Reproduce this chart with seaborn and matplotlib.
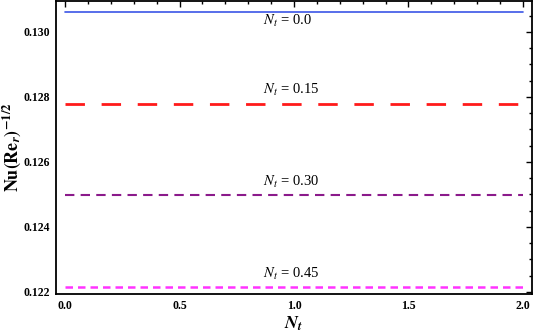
import matplotlib
matplotlib.use("Agg")
import matplotlib.pyplot as plt
from matplotlib.ticker import MultipleLocator, FormatStrFormatter
import pandas as pd
import seaborn as sns

# valeurs
x_range = [0.0, 2.0]
nt_labels = ["0.0", "0.15", "0.30", "0.45"]
nu_values = [0.13061, 0.12779, 0.12499, 0.12216]
label_y = [0.13033, 0.12822, 0.12538, 0.12255]
label_x = 0.865

colors = ["#3b55e6", "#ff1a1a", "#8b1a8b", "#ff33ff"]
dashes = [(None, None), (7, 6), (4.5, 3), (3, 2)]
widths = [1.2, 2.0, 1.5, 1.8]

sns.set_style("white")
plt.rcParams["font.family"] = ["Liberation Serif", "DejaVu Serif"]
plt.rcParams["mathtext.fontset"] = "stix"
for key in ["text.color", "axes.labelcolor", "xtick.color", "ytick.color"]:
    plt.rcParams[key] = "black"

rows = []
for lab, val in zip(nt_labels, nu_values):
    for x in x_range:
        rows.append({"x": x, "nu": val, "Nt": lab})
df = pd.DataFrame(rows)

fig = plt.figure(figsize=(5.36, 3.33), dpi=100)
ax = fig.add_axes([0.1045, 0.117, 0.888, 0.879])

for i, lab in enumerate(nt_labels):
    sub = df[df["Nt"] == lab]
    sns.lineplot(data=sub, x="x", y="nu", ax=ax, color=colors[i],
                 linewidth=widths[i], legend=False)
    line = ax.lines[-1]
    if dashes[i][0] is not None:
        line.set_dashes(dashes[i])
    ax.text(label_x, label_y[i], r"$N_t$ = " + lab, ha="left", va="center",
            fontsize=10.5)

ax.set_xlim(-0.04, 2.04)
ax.set_ylim(0.12193, 0.13094)
ax.xaxis.set_major_locator(MultipleLocator(0.5))
ax.xaxis.set_minor_locator(MultipleLocator(0.1))
ax.yaxis.set_major_locator(MultipleLocator(0.002))
ax.yaxis.set_minor_locator(MultipleLocator(0.0005))
ax.xaxis.set_major_formatter(FormatStrFormatter("%.1f"))
ax.yaxis.set_major_formatter(FormatStrFormatter("%.3f"))
ax.tick_params(which="both", direction="in", top=True, right=True,
               labelsize=8.5, width=1.0, pad=4)
ax.tick_params(which="major", length=4)
ax.tick_params(which="minor", length=2)
for t in ax.get_xticklabels() + ax.get_yticklabels():
    t.set_fontweight("bold")
for s in ax.spines.values():
    s.set_linewidth(1.3)
    s.set_color("black")

ax.set_xlabel(r"$\mathbfit{N_t}$", fontsize=13, labelpad=2)
ax.set_ylabel(r"$\mathbf{Nu(Re}_{\mathbfit{r}}\mathbf{)^{-1/2}}$", fontsize=13)
ax.yaxis.set_label_coords(-0.069, 0.5)

fig.savefig("out.png", dpi=100)
